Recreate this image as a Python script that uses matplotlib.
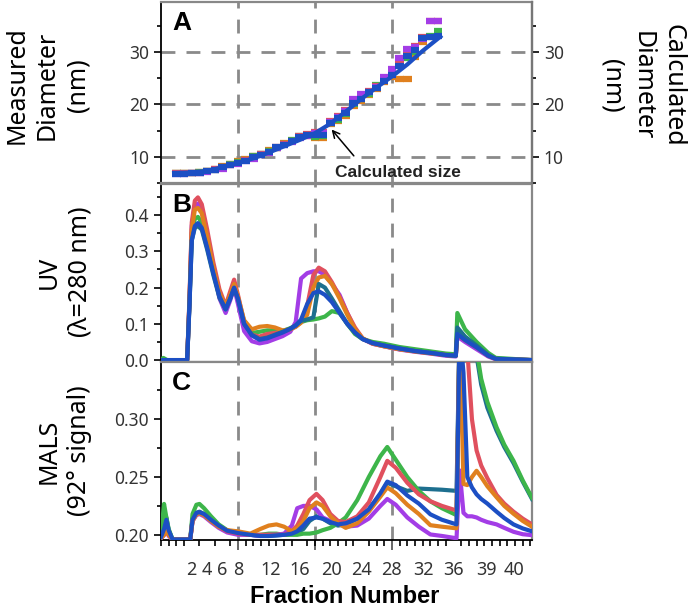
import numpy as np
import matplotlib.pyplot as plt
from matplotlib.ticker import MultipleLocator

plt.rcParams['font.family'] = ['Noto Sans', 'DejaVu Sans']
bold_family = ['Liberation Sans', 'DejaVu Sans']

# colours of the six runs
c_red = "#e0505e"
c_orange = "#e0801e"
c_purple = "#a33de6"
c_green = "#3db54a"
c_teal = "#1d6f8f"
c_blue = "#1c4fc4"

# x axis: elution position; fraction f sits at f + 2 up to fraction 36
frac_labels = ["2", "4", "6", "8", "12", "16", "20", "24", "28", "32", "36", "39", "40"]
frac_pos = [4.0, 6.0, 8.0, 10.0, 14.3, 18.0, 22.1, 26.0, 30.0, 34.1, 38.0, 42.3, 45.9]
frac_offset = 2.0

# ---- Panel A: measured diameter per fraction (nm)
fractions_a = list(range(0, 35))
meas_red = [6.9, 6.9, 7.0, 7.0, 7.3, 7.6, 8.0, 8.5, 8.9, 9.3, 9.9, 10.6, 11.0, 11.9, 12.4, 13.0, 14.0,
            14.3, 14.8, 14.8, 16.9, 17.8, 19.0, 20.6, 21.3, 22.6, 23.5, 24.6, 26.3, 27.9, 29.6, 31.2,
            32.8, 35.8, 35.8]
meas_purple = [6.8, 6.8, 6.9, 7.0, 7.1, 7.4, 7.7, 8.4, 8.7, 9.1, 9.6, 10.3, 10.8, 11.6, 12.2, 12.8, 13.6,
               14.0, 14.6, 14.6, 16.6, 17.6, 18.8, 21.0, 21.9, 22.3, 23.3, 25.2, 26.8, 28.9, 30.6, 31.0,
               32.4, 35.8, 35.8]
meas_green = [6.9, 6.9, 7.0, 7.1, 7.2, 7.5, 8.1, 8.6, 9.0, 9.4, 10.1, 10.5, 11.1, 11.7, 12.5, 13.2, 13.9,
              14.2, 13.8, 13.9, 16.4, 17.0, 18.2, 20.0, 21.0, 22.0, 23.6, 24.8, 26.0, 27.5, 28.8, 30.0,
              32.6, 33.0, 34.0]
meas_orange = [6.9, 7.0, 7.0, 7.1, 7.3, 7.7, 8.2, 8.7, 9.1, 9.6, 10.2, 10.6, 11.3, 11.6, 12.6, 13.1, 13.8,
               14.0, 13.6, 13.6, 16.2, 16.8, 17.8, 19.6, 20.6, 21.8, 23.0, 24.3, 25.3, 24.9, 24.9, 29.0,
               31.8, 32.8, 33.5]
meas_blue = [6.8, 6.8, 6.9, 7.0, 7.2, 7.5, 8.0, 8.5, 8.9, 9.2, 9.9, 10.4, 10.9, 11.8, 12.3, 13.0, 13.8,
             14.2, 14.2, 14.2, 16.5, 17.3, 18.4, 20.2, 21.1, 22.3, 23.2, 24.5, 25.6, 27.3, 29.3, 30.3,
             32.6, 32.8, 33.0]

calc_x = [1.7, 4, 6, 8, 10, 12, 14, 16, 18, 20, 22, 24, 26, 28, 30, 32, 34, 36.3]
calc_d = [6.9, 7.0, 7.3, 8.0, 8.8, 9.7, 10.8, 12.0, 13.2, 14.5, 16.3, 18.6, 21.0, 23.2, 25.3, 27.6, 30.2, 32.9]

# ---- Panel B: UV absorbance
xb = [0.0, 0.3, 0.8, 3.4, 3.7, 4.0, 4.4, 4.8, 5.3, 6.0, 6.8, 7.6, 8.4, 9.0, 9.5, 10.0, 10.8, 11.8, 12.8,
      13.8, 14.8, 15.8, 16.8, 17.5, 18.2, 19.0, 19.8, 20.5, 21.3, 22.2, 23.2, 24.2, 25.2, 26.2, 27.5, 29.0,
      31.0, 33.0, 35.0, 37.0, 38.3, 38.5, 39.5, 41.0, 42.5, 43.5, 48.2]
uv_blue = [0.0, 0.0, 0.0, 0.0, 0.15, 0.33, 0.37, 0.378, 0.365, 0.31, 0.24, 0.175, 0.14, 0.17, 0.2, 0.17,
           0.10, 0.068, 0.056, 0.06, 0.068, 0.076, 0.086, 0.095, 0.112, 0.155, 0.185, 0.19, 0.18, 0.16,
           0.13, 0.10, 0.076, 0.058, 0.047, 0.04, 0.032, 0.025, 0.02, 0.014, 0.012, 0.072, 0.055, 0.035,
           0.012, 0.003, 0.0]
uv_red = [0.0, 0.0, 0.0, 0.0, 0.17, 0.38, 0.44, 0.449, 0.43, 0.36, 0.27, 0.195, 0.15, 0.19, 0.222, 0.18,
          0.105, 0.07, 0.065, 0.072, 0.075, 0.078, 0.085, 0.092, 0.105, 0.15, 0.235, 0.255, 0.245, 0.215,
          0.175, 0.13, 0.09, 0.06, 0.045, 0.038, 0.03, 0.024, 0.019, 0.014, 0.012, 0.07, 0.055, 0.035,
          0.012, 0.003, 0.0]
uv_purple = [0.0, 0.0, 0.0, 0.0, 0.16, 0.37, 0.425, 0.432, 0.41, 0.34, 0.25, 0.17, 0.13, 0.165, 0.2, 0.155,
             0.08, 0.052, 0.046, 0.05, 0.058, 0.066, 0.078, 0.105, 0.225, 0.24, 0.245, 0.245, 0.235, 0.21,
             0.18, 0.13, 0.085, 0.058, 0.045, 0.038, 0.029, 0.023, 0.018, 0.012, 0.01, 0.065, 0.05, 0.03,
             0.01, 0.002, 0.0]
uv_orange = [0.0, 0.0, 0.0, 0.0, 0.16, 0.36, 0.415, 0.42, 0.405, 0.34, 0.255, 0.185, 0.148, 0.18, 0.21,
             0.175, 0.11, 0.085, 0.092, 0.094, 0.09, 0.082, 0.085, 0.092, 0.103, 0.125, 0.2, 0.228, 0.232,
             0.21, 0.17, 0.125, 0.085, 0.06, 0.046, 0.038, 0.03, 0.024, 0.019, 0.014, 0.012, 0.075, 0.058,
             0.037, 0.013, 0.003, 0.0]
uv_green = [0.0, 0.006, 0.0, 0.0, 0.16, 0.35, 0.39, 0.395, 0.38, 0.325, 0.25, 0.18, 0.145, 0.18, 0.205,
            0.17, 0.105, 0.075, 0.078, 0.082, 0.082, 0.08, 0.088, 0.095, 0.105, 0.11, 0.112, 0.115, 0.12,
            0.135, 0.13, 0.1, 0.072, 0.058, 0.05, 0.045, 0.036, 0.03, 0.024, 0.018, 0.016, 0.13, 0.085,
            0.05, 0.02, 0.006, 0.0]
uv_teal = [0.0, 0.0, 0.0, 0.0, 0.15, 0.33, 0.365, 0.37, 0.36, 0.305, 0.235, 0.172, 0.14, 0.17, 0.198,
           0.168, 0.1, 0.07, 0.058, 0.062, 0.07, 0.078, 0.087, 0.096, 0.108, 0.112, 0.118, 0.21, 0.2, 0.17,
           0.135, 0.1, 0.076, 0.058, 0.047, 0.04, 0.032, 0.025, 0.02, 0.014, 0.012, 0.09, 0.065, 0.04,
           0.014, 0.004, 0.0]

# ---- Panel C: MALS 92 degree signal
xc = [0.0, 0.4, 0.7, 1.0, 1.5, 3.8, 4.1, 4.6, 5.0, 5.6, 6.5, 7.5, 8.6, 10.0, 11.6, 12.9, 14.0, 15.0, 16.0,
      17.0, 17.7, 18.5, 19.3, 20.2, 21.0, 22.0, 23.0, 24.0, 25.5, 27.0, 28.5, 29.4, 30.5, 32.0, 33.5,
      35.0, 36.5, 38.4, 38.8, 39.3, 39.8, 40.4, 41.0, 41.6, 42.4, 43.6, 44.6, 45.8, 47.0, 48.2]
ls_blue = [0.198, 0.205, 0.213, 0.204, 0.196, 0.196, 0.213, 0.219, 0.2195, 0.218, 0.213, 0.208, 0.2035,
           0.2015, 0.2, 0.199, 0.199, 0.1995, 0.2, 0.201, 0.203, 0.208, 0.214, 0.215, 0.214, 0.211, 0.209,
           0.21, 0.214, 0.222, 0.236, 0.246, 0.243, 0.234, 0.227, 0.2177, 0.213, 0.209, 0.38, 0.34, 0.25,
           0.241, 0.235, 0.231, 0.227, 0.22, 0.2145, 0.209, 0.2055, 0.203]
ls_red = [0.197, 0.2, 0.206, 0.2, 0.196, 0.196, 0.212, 0.218, 0.219, 0.217, 0.212, 0.207, 0.203, 0.201,
          0.2, 0.2, 0.2, 0.2, 0.2, 0.203, 0.208, 0.218, 0.23, 0.2354, 0.23, 0.218, 0.212, 0.211, 0.216,
          0.228, 0.25, 0.264, 0.258, 0.245, 0.235, 0.229, 0.225, 0.221, 0.38, 0.38, 0.36, 0.30, 0.273,
          0.26, 0.249, 0.2345, 0.227, 0.22, 0.214, 0.209]
ls_orange = [0.197, 0.2, 0.205, 0.2, 0.196, 0.196, 0.212, 0.218, 0.2185, 0.217, 0.212, 0.207, 0.204,
             0.203, 0.201, 0.205, 0.208, 0.209, 0.207, 0.203, 0.206, 0.212, 0.223, 0.228, 0.225, 0.216,
             0.21, 0.206, 0.21, 0.22, 0.233, 0.241, 0.236, 0.226, 0.218, 0.2083, 0.207, 0.2056, 0.38,
             0.244, 0.243, 0.25, 0.2554, 0.25, 0.242, 0.2325, 0.225, 0.2182, 0.212, 0.207]
ls_green = [0.2, 0.2267, 0.215, 0.205, 0.196, 0.196, 0.218, 0.226, 0.2267, 0.223, 0.216, 0.209, 0.204,
            0.201, 0.2, 0.2, 0.201, 0.201, 0.2, 0.2, 0.2, 0.201, 0.201, 0.202, 0.204, 0.206, 0.21, 0.215,
            0.23, 0.25, 0.268, 0.276, 0.265, 0.25, 0.238, 0.229, 0.223, 0.217, 0.38, 0.38, 0.38, 0.37,
            0.36, 0.335, 0.315, 0.293, 0.278, 0.264, 0.247, 0.232]
ls_teal = [0.198, 0.21, 0.215, 0.204, 0.196, 0.196, 0.214, 0.219, 0.22, 0.218, 0.213, 0.208, 0.2035,
           0.2015, 0.2, 0.199, 0.199, 0.1995, 0.2, 0.201, 0.202, 0.205, 0.212, 0.216, 0.214, 0.21, 0.208,
           0.209, 0.214, 0.222, 0.235, 0.245, 0.242, 0.238, 0.24, 0.2395, 0.239, 0.238, 0.38, 0.38, 0.38,
           0.37, 0.355, 0.33, 0.31, 0.29, 0.276, 0.262, 0.246, 0.231]
ls_purple = [0.197, 0.2, 0.204, 0.199, 0.196, 0.196, 0.212, 0.217, 0.218, 0.216, 0.211, 0.206, 0.202,
             0.2, 0.2, 0.199, 0.2, 0.2, 0.201, 0.208, 0.223, 0.225, 0.225, 0.222, 0.215, 0.212, 0.21,
             0.207, 0.208, 0.214, 0.225, 0.231, 0.226, 0.215, 0.207, 0.2003, 0.199, 0.197, 0.2557, 0.219,
             0.216, 0.216, 0.215, 0.213, 0.211, 0.209, 0.206, 0.2026, 0.2005, 0.1997]

guide_x = [10, 20, 30]
guide_a = [10, 20, 30]

fig = plt.figure(figsize=(6.9, 6.11), dpi=100)
axA = fig.add_axes([0.2333, 0.7005, 0.5377, 0.297])
axB = fig.add_axes([0.2333, 0.4083, 0.5377, 0.2906], sharex=axA)
axC = fig.add_axes([0.2333, 0.1162, 0.5377, 0.2913], sharex=axA)

dash_kw = dict(color="#8a8a8a", lw=2.0, dashes=(5, 4), zorder=1)
lw = 3.0

# Panel A
step_x = np.array(fractions_a) + frac_offset
for vals, col in [(meas_orange, c_orange), (meas_green, c_green), (meas_red, c_red),
                  (meas_purple, c_purple), (meas_blue, c_blue)]:
    axA.hlines(vals, step_x - 0.55, step_x + 0.55, color=col, lw=4.5, zorder=3)
axA.plot(calc_x, calc_d, color=c_blue, lw=3, zorder=4)
for v in guide_a:
    axA.axhline(v, **dash_kw)
axA.set_ylim(5, 39.6)
axA.yaxis.set_major_locator(MultipleLocator(10))
axA.yaxis.set_minor_locator(MultipleLocator(5))
axA.annotate("Calculated size", xy=(22.05, 15.4), xytext=(30.8, 7.0), ha="center", va="center",
             fontsize=12.5, fontweight="bold", family=bold_family, color="#222222",
             arrowprops=dict(arrowstyle="->", color="black", lw=1.1, relpos=(0.21, 1.0),
                             shrinkA=6, shrinkB=1))
axA2 = axA.twinx()
axA2.set_ylim(axA.get_ylim())
axA2.yaxis.set_major_locator(MultipleLocator(10))
axA2.yaxis.set_minor_locator(MultipleLocator(5))

# Panel B
for y, col in [(uv_green, c_green), (uv_purple, c_purple), (uv_red, c_red), (uv_orange, c_orange),
               (uv_teal, c_teal), (uv_blue, c_blue)]:
    axB.plot(xb, y, color=col, lw=lw, zorder=3)
axB.set_ylim(-0.004, 0.486)
axB.yaxis.set_major_locator(MultipleLocator(0.1))
axB.yaxis.set_minor_locator(MultipleLocator(0.05))
axB.yaxis.set_major_formatter(lambda v, p: f"{v:.1f}")

# Panel C
for y, col in [(ls_teal, c_teal), (ls_green, c_green), (ls_purple, c_purple), (ls_red, c_red),
               (ls_orange, c_orange), (ls_blue, c_blue)]:
    axC.plot(xc, y, color=col, lw=lw, zorder=3)
axC.set_ylim(0.1955, 0.3495)
axC.yaxis.set_major_locator(MultipleLocator(0.05))
axC.yaxis.set_minor_locator(MultipleLocator(0.025))
axC.yaxis.set_major_formatter(lambda v, p: f"{v:.2f}")

for ax in (axA, axB, axC):
    for u in guide_x:
        ax.axvline(u, **dash_kw)
    ax.set_xlim(0.0, 48.2)
    ax.tick_params(axis="y", which="major", length=5, width=1.2, labelsize=12.5, labelcolor="#333333")
    ax.tick_params(axis="y", which="minor", length=3, width=1.2)
    for s in ("top", "bottom", "right"):
        ax.spines[s].set_color("#888888")
        ax.spines[s].set_linewidth(1.6)
    ax.spines["left"].set_linewidth(1.3)

axA2.tick_params(axis="y", which="major", length=5, width=1.2, labelsize=12.5, labelcolor="#333333")
axA2.tick_params(axis="y", which="minor", length=3, width=1.2)
for s in ("top", "bottom", "left"):
    axA2.spines[s].set_visible(False)
axA2.spines["right"].set_color("#777777")
axA2.spines["right"].set_linewidth(1.6)

# x axis: fraction labels with minor ticks every step
for ax in (axA, axB):
    ax.tick_params(axis="x", which="both", bottom=False, labelbottom=False)
axC.set_xticks(frac_pos, frac_labels)
axC.xaxis.set_minor_locator(MultipleLocator(1))
axC.tick_params(axis="x", which="major", length=0, pad=15, labelsize=13, labelcolor="#333333")
axC.tick_params(axis="x", which="minor", length=4, width=1.2)
axC.spines["bottom"].set_color("black")
axC.spines["bottom"].set_linewidth(1.3)
sec = axC.secondary_xaxis("bottom")
sec.set_xticks(guide_x, ["", "", ""])
sec.tick_params(length=7, width=1.4, color="#666666")
sec.spines["bottom"].set_visible(False)

for ax, letter in [(axA, "A"), (axB, "B"), (axC, "C")]:
    ax.text(0.03, 0.95, letter, transform=ax.transAxes, fontsize=19, fontweight="bold",
            family=bold_family, va="top")

fig.text(0.069, 0.86, "Measured\nDiameter\n(nm)", rotation=90, ha="center", va="center",
         fontsize=18, linespacing=1.3)
fig.text(0.093, 0.555, "UV\n(\u03bb=280 nm)", rotation=90, ha="center", va="center",
         fontsize=18, linespacing=1.3)
fig.text(0.093, 0.262, "MALS\n(92\u00b0 signal)", rotation=90, ha="center", va="center",
         fontsize=18, linespacing=1.3)
fig.text(0.931, 0.86, "Calculated\nDiameter\n(nm)", rotation=270, ha="center", va="center",
         fontsize=18, linespacing=1.3)
fig.text(0.5, 0.023, "Fraction Number", ha="center", va="center", fontsize=17, fontweight="bold",
         family=bold_family)

fig.savefig("out.png", dpi=100)
